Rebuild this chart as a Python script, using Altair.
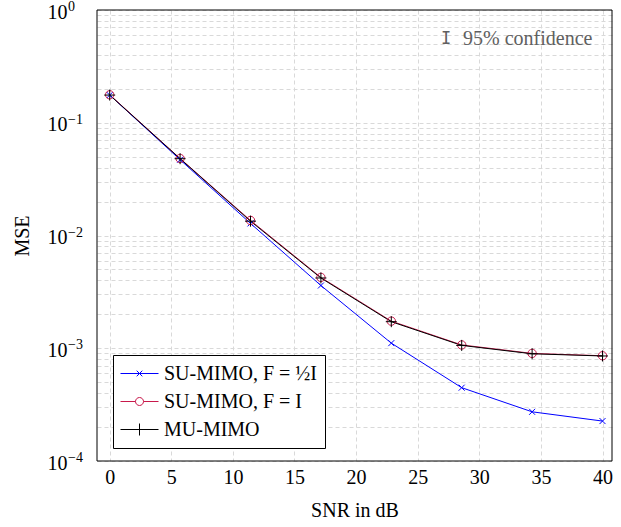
import altair as alt
import pandas as pd

# ---- data ----
snr = [0, 5.714, 11.429, 17.143, 22.857, 28.571, 34.286, 40]
su_half = [0.176, 0.0470, 0.0128, 0.00360, 0.00111, 0.000447, 0.000273, 0.000226]
su_full = [0.177, 0.0482, 0.0136, 0.00425, 0.00174, 0.00107, 0.000900, 0.000858]
mu_mimo = [0.176, 0.0480, 0.0134, 0.00420, 0.00172, 0.00106, 0.000893, 0.000854]

names = ["SU-MIMO, F = ½I\u2002\u2002\u2002", "SU-MIMO, F = I", "MU-MIMO"]
colors = ["#0000ff", "#c8194b", "#000000"]
series_vals = [su_half, su_full, mu_mimo]

# y-axis decades and their exponents (drawn as superscripts)
decades = [1.0, 0.1, 0.01, 0.001, 0.0001]
exponents = ["0", "\u22121", "\u22122", "\u22123", "\u22124"]

rows = []
for n, vals in zip(names, series_vals):
    for x, v in zip(snr, vals):
        rows.append({"snr": x, "mse": v, "series": n})
df = pd.DataFrame(rows)

y_ticks = []
for e in range(-4, 0):
    for k in range(1, 10):
        y_ticks.append(round(k * 10 ** e, 10))
y_ticks.append(1.0)
x_ticks = list(range(0, 45, 5))

FONT = "Liberation Serif, DejaVu Serif, serif"
W, H = 515, 451

# marker paths
shape_plot = ["M-1,-1L1,1M-1,1L1,-1", "circle", "M-1,0H1M0,-1V1"]
size_plot = [36, 70, 121]

leg_x = "M-1.9,0H1.9M-0.28,-0.28L0.28,0.28M-0.28,0.28L0.28,-0.28"
leg_o = "M-1.9,0H-0.4M0.4,0H1.9M-0.4,0A0.4,0.4,0,1,0,0.4,0A0.4,0.4,0,1,0,-0.4,0"
leg_p = "M-1.9,0H1.9M0,-0.6V0.6"
legend_paths = [leg_x, leg_o, leg_p]

legend = alt.Legend(
    title=None,
    orient="none",
    legendX=16,
    legendY=345,
    fillColor="white",
    strokeColor="black",
    padding=8,
    labelFont=FONT,
    labelFontSize=20,
    labelColor="black",
    labelLimit=0,
    symbolSize=400,
    symbolOffset=8,
    labelOffset=14,
    rowPadding=7,
    symbolStrokeWidth=1,
    symbolOpacity=1,
    symbolFillColor="transparent",
)

color_scale = alt.Scale(domain=names, range=colors)
x_enc = alt.X(
    "snr:Q",
    scale=alt.Scale(domain=[-1.03, 40.77], nice=False, zero=False),
    axis=alt.Axis(
        values=x_ticks,
        title="SNR in dB",
        titleY=49,
        titleBaseline="middle",
        labelPadding=6,
    ),
)
y_scale = alt.Scale(type="log", domain=[1e-4, 1], nice=False)
y_enc = alt.Y(
    "mse:Q",
    scale=y_scale,
    axis=alt.Axis(
        values=y_ticks,
        title="MSE",
        titleX=-75,
        titleY=225.5,
        titleBaseline="middle",
        titleAngle=270,
        labelPadding=30,
        labelOffset=2,
        labelExpr=(
            "(datum.value == 1 || datum.value == 0.1 || datum.value == 0.01 || "
            "datum.value == 0.001 || datum.value == 0.0001) ? '10' : ''"
        ),
    ),
)

base = alt.Chart(df)
layers = []
for n, c in zip(names, colors):
    layers.append(
        base.transform_filter(alt.datum.series == n)
        .mark_line(strokeWidth=1, color=c)
        .encode(x=x_enc, y=y_enc)
    )
for n, c, shp, sz in zip(names, colors, shape_plot, size_plot):
    layers.append(
        base.transform_filter(alt.datum.series == n)
        .mark_point(filled=False, strokeWidth=1, opacity=1, shape=shp, size=sz, color=c)
        .encode(x=x_enc, y=y_enc)
    )

# legend-only layer: its marks are fully transparent, the legend is built from the scales
layers.append(
    base.mark_point(filled=False, strokeWidth=1, strokeOpacity=0, fillOpacity=0)
    .encode(
        x=x_enc,
        y=y_enc,
        color=alt.Color("series:N", scale=color_scale, legend=legend),
        shape=alt.Shape("series:N", scale=alt.Scale(domain=names, range=legend_paths), legend=legend),
    )
)

# exponents of the y tick labels, placed through the y scale
exp_df = pd.DataFrame({"mse": decades, "e": exponents})
layers.append(
    alt.Chart(exp_df)
    .mark_text(font=FONT, fontSize=14, color="black", align="left", baseline="middle", dy=-3)
    .encode(x=alt.value(-29), y=alt.Y("mse:Q", scale=y_scale), text="e:N")
)

ann = pd.DataFrame({"t": ["I"], "u": ["95% confidence"]})
layers.append(
    alt.Chart(ann)
    .mark_text(font="DejaVu Sans Mono", fontSize=17, color="#606060", align="center", baseline="middle")
    .encode(x=alt.value(349), y=alt.value(29), text="t:N")
)
layers.append(
    alt.Chart(ann)
    .mark_text(font=FONT, fontSize=20, color="#606060", align="left", baseline="middle")
    .encode(x=alt.value(366), y=alt.value(29), text="u:N")
)

# plot frame drawn on top of the grid
layers.append(
    alt.Chart(ann)
    .mark_rect(fill="transparent", stroke="black", strokeWidth=1)
    .encode(x=alt.value(0), x2=alt.value(W), y=alt.value(0), y2=alt.value(H))
)

chart = (
    alt.layer(*layers)
    .properties(
        width=W,
        height=H,
        autosize=alt.AutoSizeParams(type="none"),
        padding={"left": 97, "top": 10, "right": 9, "bottom": 66},
    )
    .configure_view(stroke=None)
    .configure_axis(
        labelFont=FONT,
        labelFontSize=20,
        labelColor="black",
        titleFont=FONT,
        titleFontSize=20,
        titleFontWeight="normal",
        titleColor="black",
        ticks=False,
        tickSize=0,
        domain=False,
        gridColor="#d9d9d9",
        gridDash=[4, 3],
        gridWidth=1,
    )
)

chart.save("out.html", embed_options={"renderer": "svg", "actions": False})
